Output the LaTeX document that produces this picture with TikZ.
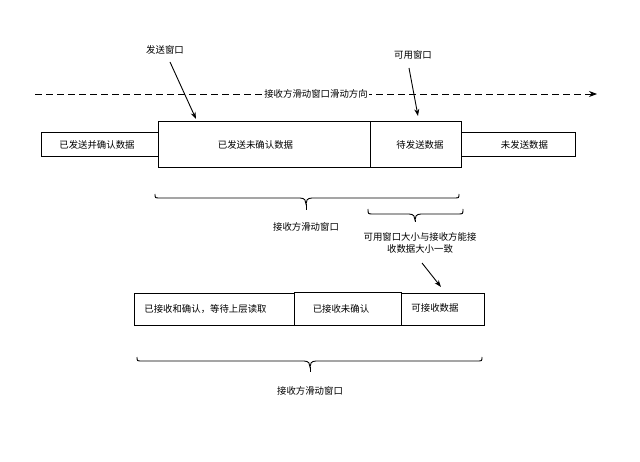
\documentclass[tikz,border=0pt]{standalone}
\usepackage{fontspec}
\setmainfont{Noto Sans CJK SC}
\usetikzlibrary{arrows.meta}
% #1 left x, #2 right x, #3 middle x, #4 end y, #5 line y, #6 tip y
\newcommand{\mybrace}[6]{%
  \draw[line width=0.9pt] (#1,#4) .. controls (#1,#5) .. ({#1+5},#5) -- ({#3-6},#5)
    .. controls ({#3-1},#5) and (#3,{#5+3}) .. (#3,{#5+6})
    .. controls (#3,{#5+3}) and ({#3+1},#5) .. ({#3+6},#5) -- ({#2-5},#5)
    .. controls (#2,#5) .. (#2,#4);
  \draw[line width=0.9pt] (#3,{#5+6}) -- (#3,#6);}
\begin{document}
\begin{tikzpicture}[x=1pt,y=-1pt,
  box/.style={draw,line width=0.9pt,inner sep=0pt,anchor=north west},
  lbl/.style={font=\fontsize{9.4}{11}\selectfont,inner sep=1pt},
  arr/.style={line width=0.9pt,-{Stealth[length=7pt,width=5pt]}}]
\useasboundingbox (0,0) rectangle (640,462);
% dashed direction line
\coordinate (ds) at (35,94);
\coordinate (de) at (597,94);
\draw[line width=0.9pt,dash pattern=on 7pt off 4pt,-{Stealth[length=8pt,width=6pt]}] (ds) -- (de);
\node[lbl,fill=white] (dir) at (316,94) {接收方滑动窗口滑动方向};
% sender boxes
\node[box,minimum width=117pt,minimum height=24pt] (b1) at (41,132) {};
\node[lbl] at ([xshift=-3pt]b1.center) {已发送并确认数据};
\node[box,minimum width=212pt,minimum height=46pt] (b2) at (158,121) {};
\node[lbl] at ([xshift=-9pt]b2.center) {已发送未确认数据};
\node[box,minimum width=91pt,minimum height=46pt] (b3) at (370,121) {};
\node[lbl] at ([xshift=4pt]b3.center) {待发送数据};
\node[box,minimum width=114pt,minimum height=24pt] (b4) at (461,132) {};
\node[lbl] at ([xshift=6pt]b4.center) {未发送数据};
% labels with arrows
\node[lbl] (sw) at (165,50) {发送窗口};
\coordinate (swt) at (196,119);
\draw[arr] (170,62) -- (swt);
\node[lbl] (aw) at (413,55) {可用窗口};
\coordinate (awt) at (418,116);
\draw[arr] (409,68) -- (awt);
% braces
\mybrace{155}{459}{306}{194}{198}{210}
\node[lbl] (rw1) at (306,227) {接收方滑动窗口};
\mybrace{368}{463}{415}{209}{214}{222}
\node[lbl,align=center,font=\fontsize{9.4}{12}\selectfont] (note) at (420,243) {可用窗口大小与接收方能接\\收数据大小一致};
\coordinate (nt) at (441,287);
\draw[arr] (422,263) -- (nt);
% receiver boxes
\node[box,minimum width=160pt,minimum height=32pt] (r1) at (134,293) {};
\node[lbl] at ([xshift=-9pt]r1.center) {已接收和确认，等待上层读取};
\node[box,minimum width=107pt,minimum height=33pt] (r2) at (294,292) {};
\node[lbl] at ([xshift=-7pt]r2.center) {已接收未确认};
\node[box,minimum width=83pt,minimum height=32pt] (r3) at (401,293) {};
\node[lbl] at ([xshift=-8pt,yshift=2pt]r3.center) {可接收数据};
\mybrace{137}{482}{310}{357}{361}{372}
\node[lbl] (rw2) at (310,391) {接收方滑动窗口};
\end{tikzpicture}
\end{document}
